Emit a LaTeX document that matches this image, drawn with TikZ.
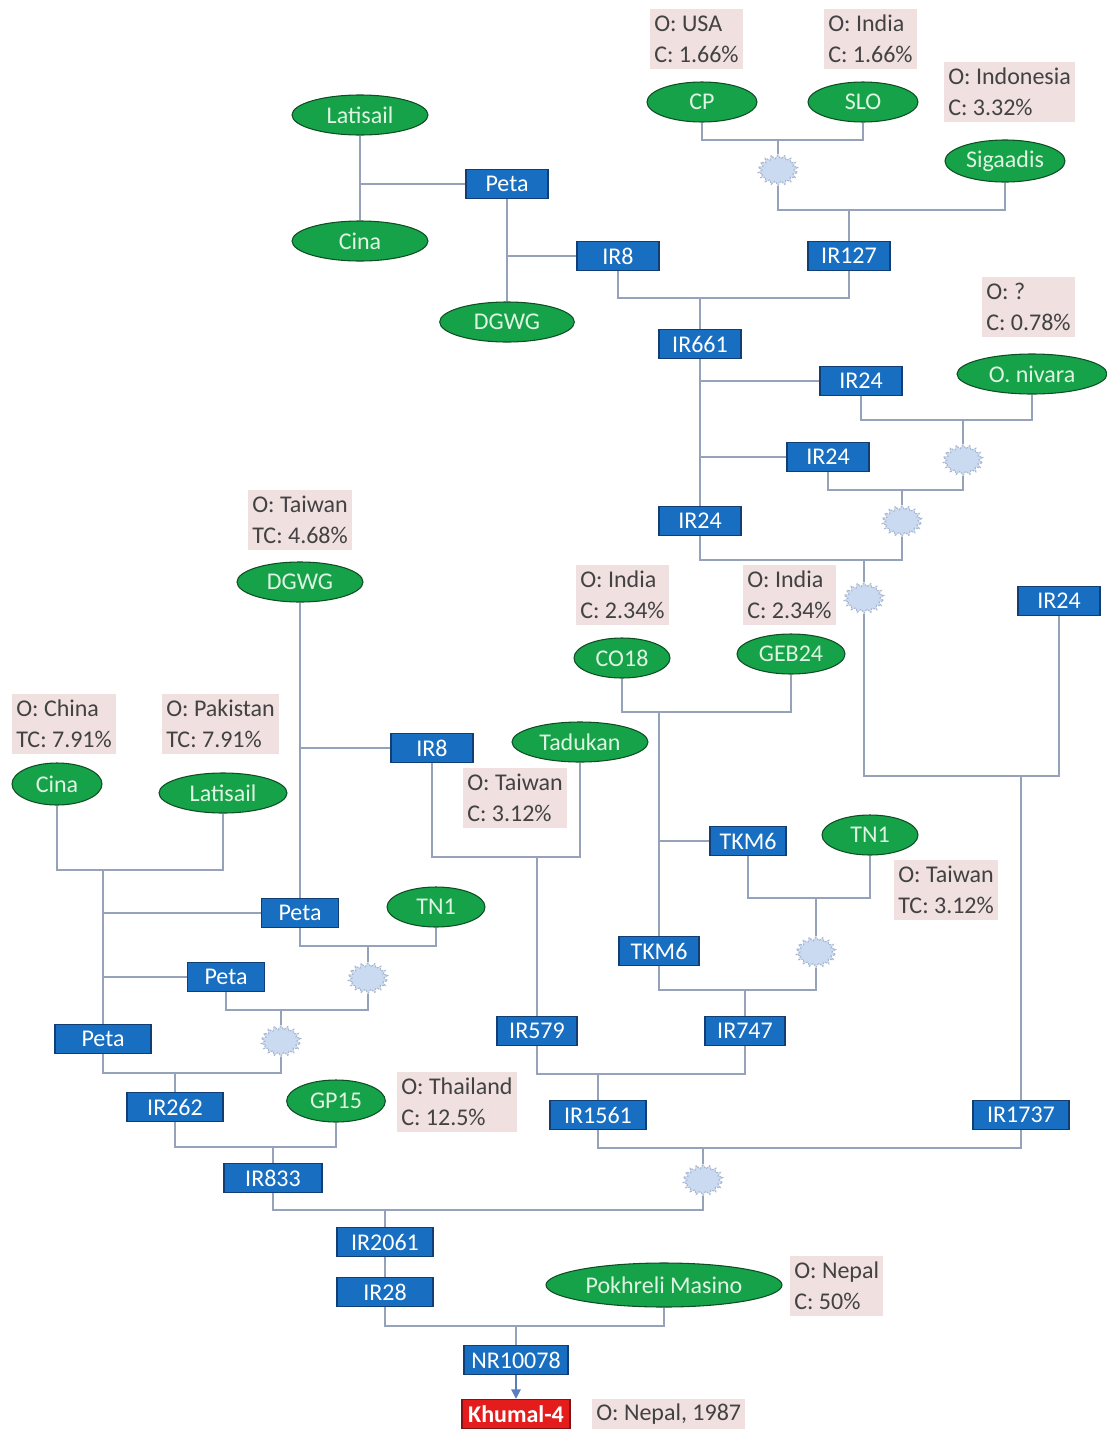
\documentclass[tikz,border=0pt]{standalone}
\usepackage{fontspec}
\setmainfont{Carlito}
\usetikzlibrary{shapes.geometric,shapes.symbols,arrows.meta}
\definecolor{boxblue}{RGB}{24,110,192}
\definecolor{boxedge}{RGB}{18,62,118}
\definecolor{elgreen}{RGB}{22,162,72}
\definecolor{eledge}{RGB}{14,78,36}
\definecolor{eltext}{RGB}{222,244,226}
\definecolor{annpink}{RGB}{240,224,224}
\definecolor{anntext}{RGB}{66,66,66}
\definecolor{lncol}{RGB}{150,162,186}
\definecolor{sbfill}{RGB}{202,218,240}
\definecolor{sbedge}{RGB}{168,182,208}
\definecolor{khured}{RGB}{228,28,28}
\definecolor{khuedge}{RGB}{130,20,20}
\definecolor{arrcol}{RGB}{90,125,190}
\begin{document}
\begin{tikzpicture}[x=0.75pt,y=-0.75pt,
  fnt/.style={font=\fontsize{18}{23}\selectfont},
  bx/.style={rectangle,fill=boxblue,draw=boxedge,line width=0.8pt,text=white,
    minimum height=22pt,inner sep=0pt,fnt},
  el/.style={ellipse,fill=elgreen,draw=eledge,line width=0.8pt,text=eltext,
    minimum height=30pt,inner sep=0pt,fnt},
  ann/.style={fill=annpink,text=anntext,align=left,anchor=west,inner xsep=3pt,
    inner ysep=3pt,minimum height=45pt,fnt},
  sb/.style={starburst,starburst points=18,starburst point height=3pt,
    random starburst=0,fill=sbfill,draw=sbedge,dash pattern=on 1.5pt off 1pt,
    line width=0.8pt,minimum width=30pt,minimum height=23pt,inner sep=0pt},
  ln/.style={draw=lncol,line width=1.6pt}]
\useasboundingbox (0,0) rectangle (1107,1429);

% ---------- top part ----------
\node[el,minimum width=102pt] (latT) at (360,115) {Latisail};
\node[el,minimum width=102pt] (cinaT) at (360,241) {Cina};
\node[bx,minimum width=61.5pt] (petaT) at (507,184) {Peta};
\node[el,minimum width=101pt] (dgwgT) at (507,322) {DGWG};
\node[bx,minimum width=61.5pt] (ir8T) at (618,256) {IR8};
\node[ann] (aUSA) at (650,39) {O: USA\\C: 1.66\%};
\node[ann] (aInd1) at (824,39) {O: India\\C: 1.66\%};
\node[ann] (aIdn) at (944,92) {O: Indonesia\\C: 3.32\%};
\node[el,minimum width=82.5pt] (cp) at (702,102) {CP};
\node[el,minimum width=82.5pt] (slo) at (863,102) {SLO};
\node[el,minimum width=90pt,minimum height=31.5pt] (sig) at (1005,161) {Sigaadis};
\node[sb] (sb1) at (778,170) {};
\node[bx,minimum width=61.5pt] (ir127) at (849,256) {IR127};
\node[bx,minimum width=61.5pt] (ir661) at (700,344) {IR661};
\node[ann] (aQ) at (982,307) {O: ?\\C: 0.78\%};
\node[el,minimum width=112.5pt] (niv) at (1032,374) {O. nivara};
\node[bx,minimum width=61.5pt] (ir24a) at (861,381) {IR24};
\node[bx,minimum width=61.5pt] (ir24b) at (828,457) {IR24};
\node[bx,minimum width=61.5pt] (ir24c) at (700,521) {IR24};
\node[sb] (sb2) at (963,460) {};
\node[sb] (sb3) at (902,521) {};
\node[sb] (sb4) at (864,598) {};
\node[bx,minimum width=61.5pt] (ir24d) at (1059,601) {IR24};

% ---------- middle ----------
\node[ann] (aTw1) at (248,520) {O: Taiwan\\TC: 4.68\%};
\node[el,minimum width=94.5pt] (dgwgL) at (300,582) {DGWG};
\node[bx,minimum width=61.5pt] (ir8L) at (432,748) {IR8};
\node[ann] (aChn) at (12,724) {O: China\\TC: 7.91\%};
\node[ann] (aPak) at (162,724) {O: Pakistan\\TC: 7.91\%};
\node[el,minimum width=67.5pt,minimum height=31.5pt] (cinaL) at (57,784) {Cina};
\node[el,minimum width=96pt] (latL) at (223,793) {Latisail};
\node[ann] (aInd2) at (576,595) {O: India\\C: 2.34\%};
\node[ann] (aInd3) at (743,595) {O: India\\C: 2.34\%};
\node[el,minimum width=72pt] (co18) at (622,658) {CO18};
\node[el,minimum width=81pt] (geb24) at (791,654) {GEB24};
\node[el,minimum width=102pt] (tad) at (580,742) {Tadukan};
\node[ann] (aTw2) at (463,798) {O: Taiwan\\C: 3.12\%};
\node[bx,minimum width=57pt] (tkm6a) at (748,841) {TKM6};
\node[el,minimum width=72pt] (tn1R) at (870,835) {TN1};
\node[ann] (aTw3) at (894,890) {O: Taiwan\\TC: 3.12\%};
\node[bx,minimum width=60pt] (tkm6b) at (659,951) {TKM6};
\node[sb] (sb5) at (816,952) {};
\node[bx,minimum width=60pt] (ir747) at (745,1031) {IR747};
\node[bx,minimum width=60pt] (ir579) at (537,1031) {IR579};
\node[bx,minimum width=72pt] (ir1561) at (598,1115) {IR1561};
\node[bx,minimum width=72pt] (ir1737) at (1021,1115) {IR1737};
\node[sb] (sb6) at (703,1180) {};

% ---------- lower left ----------
\node[bx,minimum width=58pt] (petaU) at (300,913) {Peta};
\node[el,minimum width=73.5pt] (tn1L) at (436,907) {TN1};
\node[bx,minimum width=58pt] (petaM) at (226,977) {Peta};
\node[sb] (sb7) at (368,978) {};
\node[bx,minimum width=72pt] (petaB) at (103,1039) {Peta};
\node[sb] (sb8) at (281,1041) {};
\node[bx,minimum width=72pt] (ir262) at (175,1107) {IR262};
\node[el,minimum width=74pt,minimum height=31.5pt] (gp15) at (336,1101) {GP15};
\node[ann] (aTha) at (397,1102) {O: Thailand\\C: 12.5\%};
\node[bx,minimum width=73.5pt] (ir833) at (273,1178) {IR833};
\node[bx,minimum width=72pt] (ir2061) at (385,1242) {IR2061};
\node[bx,minimum width=72pt] (ir28) at (385,1292) {IR28};
\node[el,minimum width=177pt,minimum height=33pt] (pokh) at (664,1285) {Pokhreli Masino};
\node[ann] (aNep) at (790,1286) {O: Nepal\\C: 50\%};
\node[bx,minimum width=78pt] (nr) at (516,1360) {NR10078};
\node[rectangle,fill=khured,draw=khuedge,line width=0.8pt,text=white,inner sep=0pt,
  minimum width=81pt,minimum height=22pt,font=\fontsize{18}{23}\selectfont\bfseries] (khu) at (516,1414) {Khumal-4};
\node[ann,minimum height=22pt,inner ysep=1pt] (aNep2) at (592,1414) {O: Nepal, 1987};

% ---------- connectors: top ----------
\draw[ln] (latT) -- (cinaT);
\draw[ln] (petaT.west) -- (latT.south |- petaT.west);
\draw[ln] (petaT) -- (dgwgT);
\draw[ln] (ir8T.west) -- (petaT.south |- ir8T.west);
\coordinate (j1) at (778,140);
\draw[ln] (cp.south) |- (j1) -| (slo.south);
\draw[ln] (j1) -- (sb1);
\coordinate (j2) at (849,210);
\draw[ln] (sb1) -- (sb1 |- j2) -| (sig.south);
\draw[ln] (j2) -- (ir127);
\coordinate (j3) at (700,298);
\draw[ln] (ir8T.south) |- (j3) -| (ir127.south);
\draw[ln] (j3) -- (ir661);
\draw[ln] (ir661) -- (ir24c);
\draw[ln] (ir24a.west) -- (ir661.south |- ir24a.west);
\draw[ln] (ir24b.west) -- (ir661.south |- ir24b.west);
\coordinate (j4) at (963,420);
\draw[ln] (ir24a.south) |- (j4) -| (niv.south);
\draw[ln] (j4) -- (sb2);
\coordinate (j5) at (902,490);
\draw[ln] (ir24b.south) |- (j5);
\draw[ln] (sb2) -- (sb2 |- j5) -- (j5);
\draw[ln] (j5) -- (sb3);
\coordinate (j6) at (864,560);
\draw[ln] (ir24c.south) |- (j6);
\draw[ln] (sb3) -- (sb3 |- j6) -- (j6);
\draw[ln] (j6) -- (sb4);
\coordinate (j7) at (1021,776);
\draw[ln] (sb4) -- (sb4 |- j7) -- (j7);
\draw[ln] (ir24d.south) |- (j7);
\draw[ln] (j7) -- (ir1737);

% ---------- connectors: middle ----------
\coordinate (j8) at (659,712);
\draw[ln] (co18.south) |- (j8) -| (geb24.south);
\draw[ln] (j8) -- (tkm6b);
\draw[ln] (tkm6a.west) -- (tkm6b.north |- tkm6a.west);
\coordinate (j9) at (816,898);
\draw[ln] (tkm6a.south) |- (j9) -| (tn1R.south);
\draw[ln] (j9) -- (sb5);
\coordinate (j10) at (745,990);
\draw[ln] (tkm6b.south) |- (j10);
\draw[ln] (sb5) -- (sb5 |- j10) -- (j10);
\draw[ln] (j10) -- (ir747);
\draw[ln] (dgwgL) -- (petaU);
\draw[ln] (ir8L.west) -- (dgwgL.south |- ir8L.west);
\coordinate (j11) at (537,857);
\draw[ln] (ir8L.south) |- (j11) -| (tad.south);
\draw[ln] (j11) -- (ir579);
\coordinate (j12) at (598,1074);
\draw[ln] (ir579.south) |- (j12) -| (ir747.south);
\draw[ln] (j12) -- (ir1561);
\coordinate (j13) at (703,1148);
\draw[ln] (ir1561.south) |- (j13) -| (ir1737.south);
\draw[ln] (j13) -- (sb6);
\coordinate (j14) at (385,1210);
\draw[ln] (ir833.south) |- (j14);
\draw[ln] (sb6) -- (sb6 |- j14) -- (j14);
\draw[ln] (j14) -- (ir2061);
\draw[ln] (ir2061) -- (ir28);
\coordinate (j15) at (516,1326);
\draw[ln] (ir28.south) |- (j15) -| (pokh.south);
\draw[ln] (j15) -- (nr);
\draw[draw=arrcol,line width=1.2pt,-{Triangle[length=7pt,width=7pt]}] (nr) -- (khu);

% ---------- connectors: lower left ----------
\coordinate (j16) at (103,870);
\draw[ln] (cinaL.south) |- (j16) -| (latL.south);
\draw[ln] (j16) -- (petaB);
\draw[ln] (petaU.west) -- (j16 |- petaU.west);
\draw[ln] (petaM.west) -- (j16 |- petaM.west);
\coordinate (j17) at (368,946);
\draw[ln] (petaU.south) |- (j17) -| (tn1L.south);
\draw[ln] (j17) -- (sb7);
\coordinate (j18) at (281,1010);
\draw[ln] (petaM.south) |- (j18);
\draw[ln] (sb7) -- (sb7 |- j18) -- (j18);
\draw[ln] (j18) -- (sb8);
\coordinate (j19) at (175,1073);
\draw[ln] (petaB.south) |- (j19);
\draw[ln] (sb8) -- (sb8 |- j19) -- (j19);
\draw[ln] (j19) -- (ir262);
\coordinate (j20) at (273,1147);
\draw[ln] (ir262.south) |- (j20) -| (gp15.south);
\draw[ln] (j20) -- (ir833);
\end{tikzpicture}
\end{document}
